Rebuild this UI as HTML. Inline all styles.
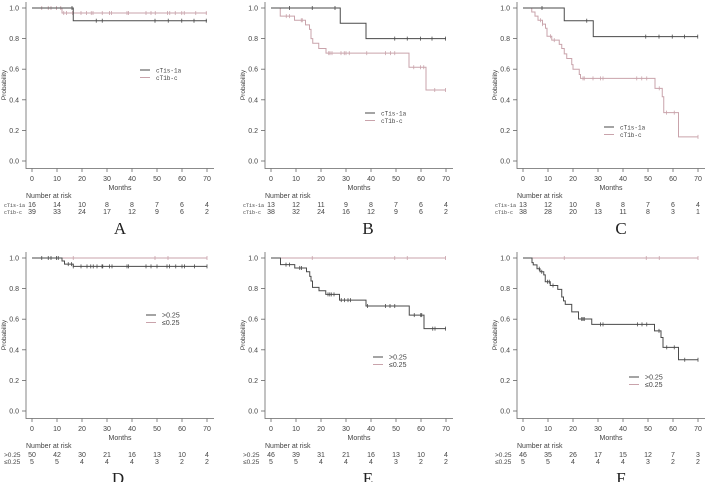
<!DOCTYPE html>
<html><head><meta charset="utf-8">
<style>
html,body{margin:0;padding:0;background:#fff;}
svg{display:block;}
text{font-family:"Liberation Sans",sans-serif;fill:#444;font-size:7px;}
.mono{font-family:"Liberation Mono",monospace;}
.letter{font-family:"Liberation Serif",serif;font-size:17px;fill:#222;}
</style></head>
<body>
<svg id="fig" width="709" height="482" viewBox="0 0 709 482" xmlns="http://www.w3.org/2000/svg"></svg>
<script>
const xTicks = [0,10,20,30,40,50,60,70];
const yTicks = [0,0.2,0.4,0.6,0.8,1.0];
// Panel A
const A_dark_t = [16.5]; const A_dark_s = [0.917];
const A_dark_c = [16,25.7,28.1,49.2,54.5,59.9,64.8,69.7];
const A_pink_t = [12]; const A_pink_s = [0.967];
const A_pink_c = [3.9,6.5,7.6,9.8,11.5,12.7,13.8,16.2,19.6,21.8,23.7,24.4,28.1,31,31.8,38,38.6,45.6,47.6,49.3,54.2,55.1,57.3,59.9,60.9,65.5,69.7];
const A_risk1 = [16,14,10,8,8,7,6,4]; const A_risk2 = [39,33,24,17,12,9,6,2];
// Panel B
const B_dark_t = [27.7,38]; const B_dark_s = [0.9,0.8];
const B_dark_c = [7.4,16.5,25.6,49.5,54.5,59.8,64.4,69.8];
const B_pink_t = [3.7,9.4,13.8,15.4,16,16.7,19.1,22,55.2,62]; const B_pink_s = [0.947,0.92,0.89,0.86,0.8,0.77,0.735,0.705,0.613,0.464];
const B_pink_c = [6.1,7.4,12.1,12.5,23.1,23.6,24.4,28,29.3,30,31.3,38.3,45.8,47.8,49.5,57.1,59.8,61.1,65.5,69.8];
const B_risk1 = [13,12,11,9,8,7,6,4]; const B_risk2 = [38,32,24,16,12,9,6,2];
// Panel C
const C_dark_t = [16.5,28.1]; const C_dark_s = [0.917,0.813];
const C_dark_c = [7.6,25.5,49.1,54.4,59.7,64.6,69.9];
const C_pink_t = [3.5,4.8,6,7.8,9,9.6,11.5,14.5,15.5,16.5,17.5,19.5,20,22.5,23,52.8,55.7,56.3,62.2]; const C_pink_s = [0.974,0.947,0.92,0.895,0.868,0.815,0.79,0.762,0.735,0.7,0.67,0.63,0.6,0.565,0.54,0.475,0.42,0.316,0.158];
const C_pink_c = [7,7.8,11,12.5,24,24.5,28,31,32,45.5,47.5,49.5,54.5,57.4,60.5,70];
const C_risk1 = [13,12,10,8,8,7,6,4]; const C_risk2 = [38,28,20,13,11,8,3,1];
// Panel D
const D_dark_t = [12,13,16.5]; const D_dark_s = [0.98,0.96,0.945];
const D_dark_c = [3.9,6.5,7.6,9.8,10.5,14.5,15.8,16.5,19.6,22,23.5,24.5,26,28,28.3,31,32,38,38.6,45.6,47.6,50,54,55,57.5,60,61,65,70];
const D_pink_t = []; const D_pink_s = [];
const D_pink_c = [16.5,49.2,54.4,70];
const D_risk1 = [50,42,30,21,16,13,10,4]; const D_risk2 = [5,5,4,4,4,3,2,2];
// Panel E
const E_dark_t = [3.8,9.5,14.2,15.5,16,16.6,19.2,21.9,27.4,38,55.3,61.2]; const E_dark_s = [0.957,0.935,0.91,0.88,0.85,0.808,0.786,0.762,0.725,0.686,0.627,0.538];
const E_dark_c = [6,7.4,11.5,12.2,22.8,23.5,24.1,25.2,28.1,29.4,30.8,31.8,38.6,45.8,47.6,49.5,57.3,59.9,60.3,64.7,65.6,69.8];
const E_pink_t = []; const E_pink_s = [];
const E_pink_c = [16.5,49.5,54.5,69.8];
const E_risk1 = [46,39,31,21,16,13,10,4]; const E_risk2 = [5,5,4,4,4,3,2,2];
// Panel F
const F_dark_t = [3.6,4.1,5.6,6.8,8.3,8.9,10.9,13.9,15.5,16.2,16.9,19.5,22.2,27.5,52.6,55.2,56,62.2]; const F_dark_s = [0.97,0.955,0.93,0.91,0.89,0.845,0.82,0.795,0.745,0.72,0.697,0.648,0.601,0.566,0.524,0.48,0.416,0.335];
const F_dark_c = [6.5,7.5,9.8,10.5,12,23.5,24,24.5,31,32,45.8,47.6,49.5,54.4,57.5,60.5,64.7,70];
const F_pink_t = []; const F_pink_s = [];
const F_pink_c = [16.5,49.3,54.5,70];
const F_risk1 = [46,35,26,17,15,12,7,3]; const F_risk2 = [5,5,4,4,4,3,2,2];

const DARK = '#4a4a4a', PINK = '#c9a3ab';
const NS = 'http://www.w3.org/2000/svg';
const svg = document.getElementById('fig');
function mk(tag, attrs, parent){const e=document.createElementNS(NS,tag);for(const k in attrs)e.setAttribute(k,attrs[k]);(parent||svg).appendChild(e);return e;}

const panels = [
 {id:'a',L:'A',ox:0,oy:0,lx:120,ly:228,n1:'cTis-1a',n2:'cT1b-c',mono:true,gx:140,gy:70,d:[A_dark_t,A_dark_s,A_dark_c],p:[A_pink_t,A_pink_s,A_pink_c],r1:A_risk1,r2:A_risk2},
 {id:'b',L:'B',ox:239,oy:0,lx:129,ly:228,n1:'cTis-1a',n2:'cT1b-c',mono:true,gx:126,gy:113,d:[B_dark_t,B_dark_s,B_dark_c],p:[B_pink_t,B_pink_s,B_pink_c],r1:B_risk1,r2:B_risk2},
 {id:'c',L:'C',ox:491,oy:0,lx:130,ly:228,n1:'cTis-1a',n2:'cT1b-c',mono:true,gx:113,gy:127,d:[C_dark_t,C_dark_s,C_dark_c],p:[C_pink_t,C_pink_s,C_pink_c],r1:C_risk1,r2:C_risk2},
 {id:'d',L:'D',ox:0,oy:250,lx:118,ly:228,n1:'>0.25',n2:'≤0.25',mono:false,gx:146,gy:65,d:[D_dark_t,D_dark_s,D_dark_c],p:[D_pink_t,D_pink_s,D_pink_c],r1:D_risk1,r2:D_risk2},
 {id:'e',L:'E',ox:239,oy:250,lx:129,ly:228,n1:'>0.25',n2:'≤0.25',mono:false,gx:134,gy:107,d:[E_dark_t,E_dark_s,E_dark_c],p:[E_pink_t,E_pink_s,E_pink_c],r1:E_risk1,r2:E_risk2},
 {id:'f',L:'F',ox:491,oy:250,lx:130,ly:228,n1:'>0.25',n2:'≤0.25',mono:false,gx:138,gy:127,d:[F_dark_t,F_dark_s,F_dark_c],p:[F_pink_t,F_pink_s,F_pink_c],r1:F_risk1,r2:F_risk2}
];

panels.forEach(P=>{
  const g = mk('g',{});
  
  
  const X = t => P.ox+32+t*175/70;
  const Y = p => P.oy+161-p*153;
  const ax = mk('path',{d:`M${P.ox+26},${P.oy+2}V${P.oy+168.5}H${P.ox+214}`,stroke:'#666','stroke-width':0.8,fill:'none'},g);
  
  
  yTicks.forEach(v=>{
    mk('line',{x1:P.ox+22,x2:P.ox+26,y1:Y(v),y2:Y(v),stroke:'#666','stroke-width':0.8},g);
    const t = mk('text',{x:P.ox+19,y:Y(v)+2.5,'text-anchor':'end'},g);
    t.textContent = v.toFixed(1);
    
    
  });
  xTicks.forEach(v=>{
    mk('line',{x1:X(v),x2:X(v),y1:P.oy+168.5,y2:P.oy+172,stroke:'#666','stroke-width':0.8},g);
    const t = mk('text',{x:X(v),y:P.oy+181,'text-anchor':'middle'},g);
    t.textContent = v;
    
    
  });
  const yl = mk('text',{x:0,y:0,'text-anchor':'middle',transform:`translate(${P.ox+6},${P.oy+85}) rotate(-90)`,style:'font-size:6.5px'},g);
  yl.textContent='Probability';
  
  
  const xl = mk('text',{x:P.ox+120,y:P.oy+190,'text-anchor':'middle'},g);
  xl.textContent='Months';
  
  
  [[P.p,PINK,'pink'],[P.d,DARK,'dark']].forEach(([c,col,nm])=>{
    const [ts,ss,cs]=c;
    let d=`M${X(0)},${Y(1)}`;
    ts.forEach((t,i)=>{d+=`H${X(t)}V${Y(ss[i])}`;});
    d+=`H${X(70)}`;
    const path = mk('path',{d,stroke:col,'stroke-width':1,fill:'none'},g);
    
    
    cs.forEach(ct=>{
      let s=1; ts.forEach((t,i)=>{if(t<=ct)s=ss[i];});
      const m = mk('line',{x1:X(ct),x2:X(ct),y1:Y(s)-2,y2:Y(s)+2,stroke:col,'stroke-width':0.8},g);
      
      
    });
  });
  const lg = mk('g',{},g);
  
  
  [[P.n1,DARK,0],[P.n2,PINK,7.5]].forEach(([n,col,dy])=>{
    mk('line',{x1:P.ox+P.gx,x2:P.ox+P.gx+10,y1:P.oy+P.gy+dy,y2:P.oy+P.gy+dy,stroke:col,'stroke-width':1},lg);
    const t = mk('text',{x:P.ox+P.gx+16,y:P.oy+P.gy+dy+2.5,class:P.mono?'mono':'',style:P.mono?'font-size:6px':'font-size:7px'},lg);
    t.textContent=n;
    
    
  });
  const nr = mk('text',{x:P.ox+26,y:P.oy+198},g);
  nr.textContent='Number at risk';
  
  
  [[P.n1,P.r1,207],[P.n2,P.r2,214]].forEach(([n,arr,yy])=>{
    const lb = mk('text',{x:P.ox+4,y:P.oy+yy,class:P.mono?'mono':'',style:P.mono?'font-size:5px':'font-size:6.5px'},g);
    lb.textContent=n;
    
    
    arr.forEach((v,i)=>{
      const t = mk('text',{x:X(xTicks[i]),y:P.oy+yy,'text-anchor':'middle'},g);
      t.textContent=v;
      
      
    });
  });
  const L = mk('text',{x:P.ox+P.lx,y:P.oy+P.ly+6,'text-anchor':'middle',class:'letter'},g);
  L.textContent=P.L;
  
  
});
</script>
</body></html>
